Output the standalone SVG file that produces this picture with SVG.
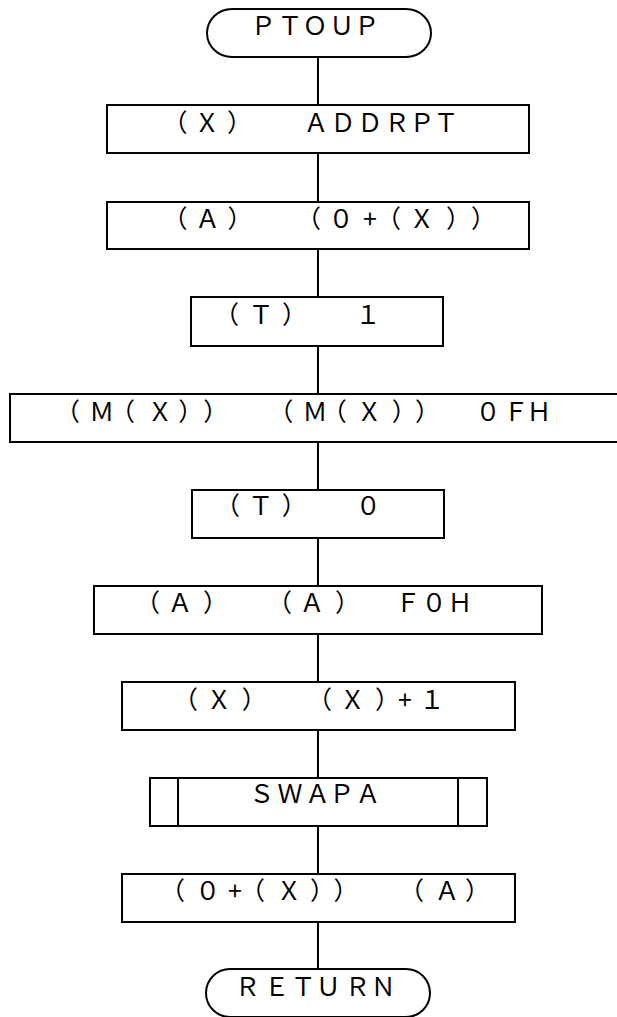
<svg xmlns="http://www.w3.org/2000/svg" width="617" height="1017" viewBox="0 0 617 1017">
<style>
.box{fill:#fff;stroke:#000;stroke-width:2}
.ln{fill:none;stroke:#000;stroke-width:2}
text{font-family:"Noto Sans CJK JP","DejaVu Sans",sans-serif;font-size:25px;fill:#000;text-anchor:middle}
</style>
<rect width="617" height="1017" fill="#fff"/>
<g id="connectors">
<path class="ln" d="M318 57V105M318 153V202M318 249V297M318 346V394M318 442V490M318 538V586M318 634V682M318 730V778M318 826V874M318 922V969"/>
</g>
<g id="start">
<path class="box" d="M232 9H406A25 24 0 0 1 406 57H232A25 24 0 0 1 232 9Z"/>
<text x="263.3 290 315 341.7 366.7" y="35">ＰＴＯＵＰ</text>
</g>
<g id="n1">
<rect class="box" x="107" y="105" width="422" height="48"/>
<text x="175 207 239.5 275 316 343 370 397 422 446" y="132">（Ｘ）　ＡＤＤＲＰＴ</text>
</g>
<g id="n2">
<rect class="box" x="107" y="202" width="422" height="47"/>
<text x="175 207.5 240 275 308.5 341 370 388.5 421.7 458.5 483.5" y="228">（Ａ）　（０+（Ｘ））</text>
</g>
<g id="n3">
<rect class="box" x="191" y="297" width="252" height="49"/>
<text x="226.5 261 294.5 325 368" y="324">（Ｔ）　１</text>
</g>
<g id="n4">
<rect class="box" x="10" y="394" width="617" height="48"/>
<text x="67.5 101.7 122.5 160 190.8 215.8 248 280.8 315 334.2 369.2 404.2 427.5 455 488 516 539" y="421">（Ｍ（Ｘ））　（Ｍ（Ｘ））　０ＦＨ</text>
</g>
<g id="n5">
<rect class="box" x="192" y="490" width="252" height="48"/>
<text x="227.5 260.8 294.2 325 368.3" y="515">（Ｔ）　０</text>
</g>
<g id="n6">
<rect class="box" x="94" y="586" width="448" height="48"/>
<text x="147.5 180 215.5 248 279.5 312 347.5 372 408 434 460" y="612">（Ａ）　（Ａ）　Ｆ０Ｈ</text>
</g>
<g id="n7">
<rect class="box" x="122" y="682" width="393" height="48"/>
<text x="185.5 219 254.2 287 319.5 352.5 387.5 405 432" y="709">（Ｘ）　（Ｘ）+１</text>
</g>
<g id="n8">
<rect class="box" x="150" y="778" width="337" height="48"/>
<path class="ln" d="M178 778V826M458 778V826"/>
<text x="261.7 290 317.5 341.7 368" y="803">ＳＷＡＰＡ</text>
</g>
<g id="n9">
<rect class="box" x="122" y="874" width="393" height="48"/>
<text x="172.5 207.7 235 252.5 289 322.5 346 378 411.5 447 477.5" y="900">（０+（Ｘ））　（Ａ）</text>
</g>
<g id="end">
<path class="box" d="M230 969H406A24 24 0 0 1 406 1017H230A24 24 0 0 1 230 969Z"/>
<text x="247.5 276.7 303.3 328.3 357.5 383.3" y="996">ＲＥＴＵＲＮ</text>
</g>
</svg>
